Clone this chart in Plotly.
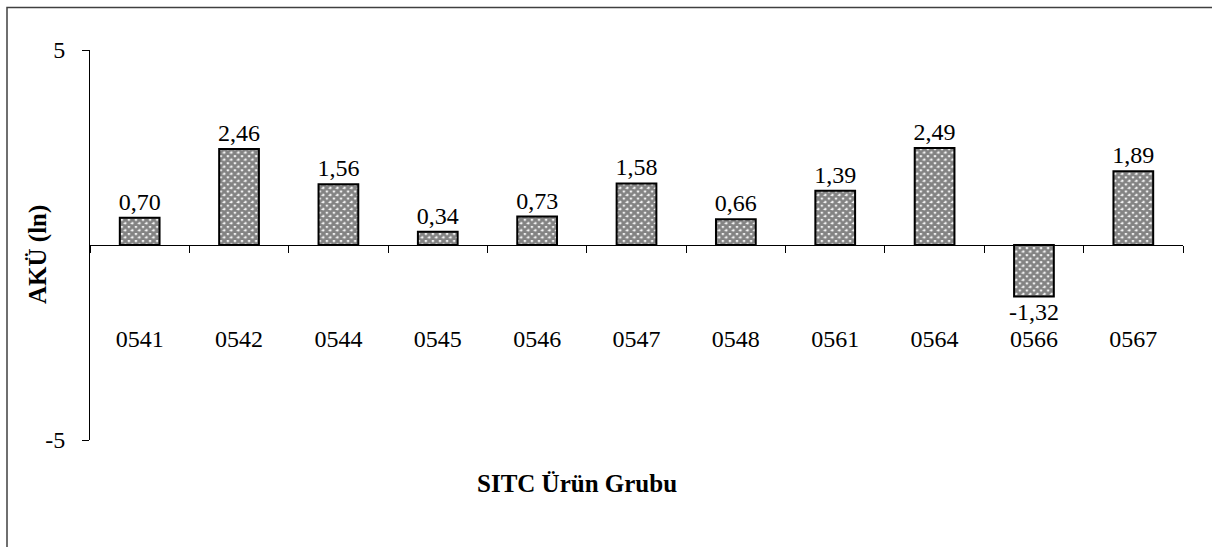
import plotly.graph_objects as go

categories = ["0541", "0542", "0544", "0545", "0546", "0547", "0548", "0561", "0564", "0566", "0567"]
values = [0.70, 2.46, 1.56, 0.34, 0.73, 1.58, 0.66, 1.39, 2.49, -1.32, 1.89]
y_ticks = [-5, 5]
y_tick_labels = ["-5", "5"]
x_title = "SITC Ürün Grubu"
y_title = "AKÜ (ln)"

labels = [f"{v:.2f}".replace(".", ",") for v in values]

FONT = "Liberation Serif, Times New Roman, serif"

W, H = 1212, 547
L, R, T, B = 90, 29, 50, 107
pw, ph = W - L - R, H - T - B

def px_x(x):
    return (x - L) / pw

def px_y(y):
    return (H - B - y) / ph

fig = go.Figure()
fig.add_trace(go.Bar(
    x=categories,
    y=values,
    width=0.4,
    text=labels,
    textposition="outside",
    constraintext="none",
    textfont=dict(family=FONT, size=24, color="black"),
    cliponaxis=False,
    marker=dict(
        color="white",
        line=dict(color="black", width=2),
        pattern=dict(shape="x", fgcolor="#111111", bgcolor="#f4f4f4", size=5, solidity=0.8),
    ),
    showlegend=False,
))

fig.update_layout(
    width=W, height=H,
    margin=dict(l=L, r=R, t=T, b=B),
    paper_bgcolor="white",
    plot_bgcolor="white",
    font=dict(family=FONT, size=24, color="black"),
    xaxis=dict(
        type="category",
        range=[-0.5, len(categories) - 0.5],
        anchor="free",
        position=0.5,
        showline=True, linecolor="black", linewidth=1,
        ticks="outside", tickson="boundaries", ticklen=7, tickcolor="black", tickwidth=1,
        ticklabelstandoff=72,
        tickfont=dict(family=FONT, size=24, color="black"),
        showgrid=False, zeroline=False,
    ),
    yaxis=dict(
        range=[-5, 5],
        tickvals=y_ticks,
        ticktext=y_tick_labels,
        showline=True, linecolor="black", linewidth=1,
        ticks="outside", ticklen=7, tickcolor="black",
        ticklabelstandoff=12,
        tickfont=dict(family=FONT, size=24, color="black"),
        showgrid=False, zeroline=False,
    ),
    shapes=[
        dict(type="rect", xref="paper", yref="paper",
             x0=px_x(7), x1=px_x(1230), y0=px_y(560), y1=px_y(7.5),
             line=dict(color="#404040", width=1.5), fillcolor="rgba(0,0,0,0)", layer="below"),
    ],
    annotations=[
        dict(text=f"<b>{x_title}</b>", xref="paper", yref="paper",
             x=px_x(577), y=px_y(483), showarrow=False,
             font=dict(family=FONT, size=25, color="black"),
             xanchor="center", yanchor="middle"),
        dict(text=f"<b>{y_title}</b>", xref="paper", yref="paper",
             x=px_x(38), y=px_y(255), showarrow=False, textangle=-90,
             font=dict(family=FONT, size=25, color="black"),
             xanchor="center", yanchor="middle"),
    ],
)

fig.write_html(
    "out.html",
    config={"displayModeBar": False},
    post_script="document.body.style.margin='0';document.body.style.overflow='hidden';",
)
